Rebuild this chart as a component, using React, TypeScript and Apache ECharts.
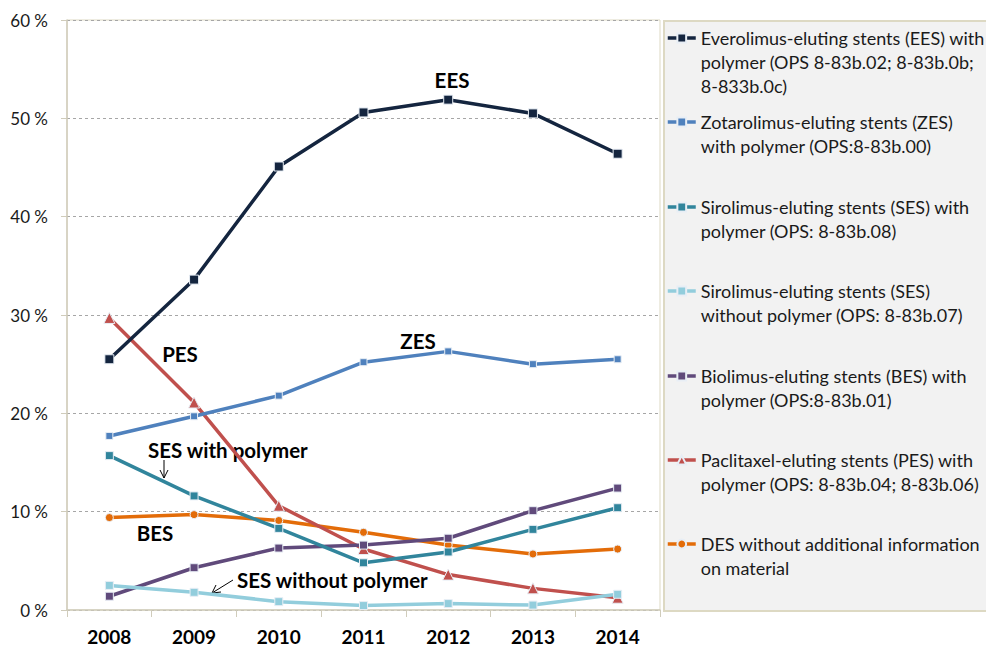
import React, { useEffect, useRef } from "react";
import * as echarts from "echarts";

const years = ["2008", "2009", "2010", "2011", "2012", "2013", "2014"];
const eesValues = [25.5, 33.6, 45.1, 50.6, 51.9, 50.5, 46.4];
const zesValues = [17.7, 19.7, 21.8, 25.2, 26.3, 25.0, 25.5];
const sesPolyValues = [15.7, 11.6, 8.3, 4.8, 5.9, 8.2, 10.4];
const sesNoPolyValues = [2.5, 1.8, 0.85, 0.45, 0.65, 0.5, 1.6];
const besValues = [1.4, 4.3, 6.3, 6.6, 7.3, 10.1, 12.4];
const pesValues = [29.7, 21.1, 10.6, 6.2, 3.6, 2.2, 1.25];
const desValues = [9.4, 9.7, 9.1, 7.9, 6.6, 5.7, 6.2];

const seriesNames = [
  "Everolimus-eluting stents (EES) with\npolymer (OPS 8-83b.02; 8-83b.0b;\n8-833b.0c)",
  "Zotarolimus-eluting stents (ZES)\nwith polymer (OPS:8-83b.00)",
  "Sirolimus-eluting stents (SES) with\npolymer (OPS: 8-83b.08)",
  "Sirolimus-eluting stents (SES)\nwithout polymer (OPS: 8-83b.07)",
  "Biolimus-eluting stents (BES) with\npolymer (OPS:8-83b.01)",
  "Paclitaxel-eluting stents (PES) with\npolymer (OPS: 8-83b.04; 8-83b.06)",
  "DES without additional information\non material",
];
const seriesColors = ["#14253f", "#4f81bd", "#31859c", "#92cddc", "#604a7b", "#c0504d", "#e36c09"];
const seriesSymbols = ["rect", "rect", "rect", "rect", "rect", "triangle", "circle"];
const seriesSizes = [9, 7, 8, 8, 8, 11, 8];
const seriesData = [eesValues, zesValues, sesPolyValues, sesNoPolyValues, besValues, pesValues, desValues];
const yTicks = { min: 0, max: 60, interval: 10 };

const FONT = "Lato, 'Open Sans', sans-serif";

export default function App() {
  const ref = useRef<HTMLDivElement>(null);
  useEffect(() => {
    if (!ref.current) return;
    const chart = echarts.init(ref.current, null, { renderer: "svg" });
    const legendCenters = [38, 122, 207, 291, 376, 460, 544];
    const lh = 24;
    const legends = seriesNames.map((name, i) => {
      const L = name.split("\n").length;
      return {
        data: [name],
        orient: "vertical",
        left: 666,
        top: legendCenters[i] - (2 * L - 1) * lh / 2,
        padding: 0,
        itemWidth: 28,
        itemHeight: 11,
        itemGap: 5,
        lineStyle: { width: 3.5 },
        formatter: (n: string) => "\n".repeat(n.split("\n").length - 1) + n,
        textStyle: { fontFamily: FONT, fontSize: 18, color: "#1a1a1a", lineHeight: lh },
      };
    });
    const bold = { fontFamily: FONT, fontSize: 20.5, fontWeight: "bold", fill: "#000" };
    chart.setOption({
      animation: false,
      backgroundColor: "#fff",
      grid: {
        left: 67, right: 326, top: 20, bottom: 38,
        show: true, borderColor: "#ddd9c3", borderWidth: 1,
      },
      legend: legends,
      xAxis: {
        type: "category",
        data: years,
        boundaryGap: true,
        axisLine: { lineStyle: { color: "#d0ccbb", width: 1.5 } },
        axisTick: { show: true, interval: 0, length: 7, lineStyle: { color: "#d0ccbb" } },
        axisLabel: { fontFamily: FONT, fontSize: 19, fontWeight: "bold", color: "#000", margin: 17 },
      },
      yAxis: {
        type: "value",
        min: yTicks.min, max: yTicks.max, interval: yTicks.interval,
        axisLine: { show: true, lineStyle: { color: "#d0ccbb", width: 1.5 } },
        axisTick: { show: true, length: 6, lineStyle: { color: "#d0ccbb" } },
        splitLine: { lineStyle: { color: "#a6a6a6", type: [3, 3], width: 1 } },
        axisLabel: { fontFamily: FONT, fontSize: 17, color: "#1a1a1a", margin: 19, formatter: "{value} %" },
      },
      series: seriesNames.map((name, i) => ({
        name,
        type: "line",
        data: seriesData[i],
        symbol: seriesSymbols[i],
        symbolSize: seriesSizes[i],
        showSymbol: true,
        lineStyle: { color: seriesColors[i], width: 3.5 },
        itemStyle: { color: seriesColors[i], borderColor: "#e8eef5", borderWidth: 1 },
        z: 10 - i,
      })),
      graphic: [
        { type: "rect", left: 663, top: 20, shape: { width: 330, height: 590 }, style: { fill: "#f2f2f2", stroke: "#ddd9c3", lineWidth: 2 }, z: -1 },
        { type: "text", x: 452, y: 80, style: { ...bold, text: "EES", align: "center", verticalAlign: "middle" } },
        { type: "text", x: 418, y: 341, style: { ...bold, text: "ZES", align: "center", verticalAlign: "middle" } },
        { type: "text", x: 180, y: 354, style: { ...bold, text: "PES", align: "center", verticalAlign: "middle" } },
        { type: "text", x: 148, y: 450, style: { ...bold, text: "SES with polymer", align: "left", verticalAlign: "middle" } },
        { type: "text", x: 155, y: 533, style: { ...bold, text: "BES", align: "center", verticalAlign: "middle" } },
        { type: "text", x: 237, y: 580, style: { ...bold, text: "SES without polymer", align: "left", verticalAlign: "middle" } },
        { type: "line", shape: { x1: 164, y1: 460, x2: 164, y2: 478 }, style: { stroke: "#000", lineWidth: 1 } },
        { type: "polyline", shape: { points: [[160, 470], [164, 478], [168, 470]] }, style: { stroke: "#000", lineWidth: 1, fill: null } },
        { type: "line", shape: { x1: 233, y1: 580, x2: 212, y2: 593 }, style: { stroke: "#000", lineWidth: 1 } },
        { type: "polyline", shape: { points: [[216, 585], [212, 593], [221, 592]] }, style: { stroke: "#000", lineWidth: 1, fill: null } },
      ],
    });
    return () => chart.dispose();
  }, []);
  return <div ref={ref} style={{ width: 986, height: 648, position: "absolute", left: 0, top: 0 }} />;
}
